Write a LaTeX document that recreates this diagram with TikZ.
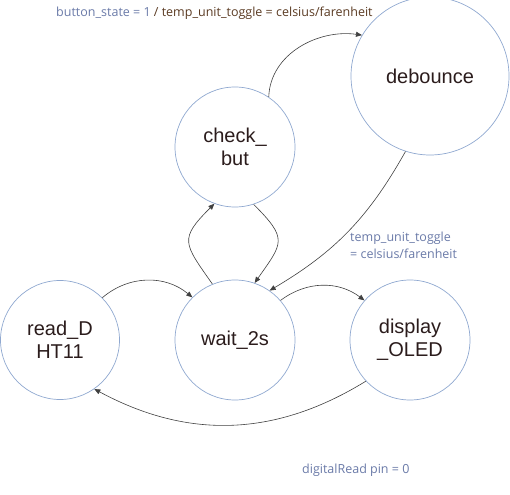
\documentclass[tikz,border=0pt]{standalone}
\usepackage{fontspec}
\setmainfont{Liberation Sans}
\newfontfamily\lblfont{Open Sans}
\usepackage{tikz}
\usetikzlibrary{positioning,arrows.meta}
\usepackage{xcolor}
\definecolor{ringblue}{HTML}{8FA8D0}
\definecolor{lblblue}{HTML}{6A7AA8}
\definecolor{lblbrown}{HTML}{5A3A22}
\definecolor{txtdark}{HTML}{2B1C1C}

\begin{document}
\begin{tikzpicture}[x=1pt,y=1pt,>={Triangle[length=6pt,width=5pt]},
  stnode/.style={circle,draw=ringblue,line width=0.7pt,inner sep=0pt,
    text=txtdark,align=center,font=\fontsize{20}{23}\selectfont},
  trans/.style={->,draw=black!75,line width=0.6pt},
  lbl/.style={font=\lblfont\fontsize{12.5}{17}\selectfont,inner sep=0pt}]
\useasboundingbox (0,0) rectangle (510,-494);
% states
\node[stnode,minimum size=158pt] (deb) at (430,-76) {debounce};
\node[stnode,minimum size=120pt] (chk) at (235,-147) {check\_\\but};
\node[stnode,minimum size=119pt] (rd) at (60,-340) {read\_D\\HT11};
\node[stnode,minimum size=120pt] (wt) at (235,-340) {wait\_2s};
\node[stnode,minimum size=120pt] (disp) at (410,-340) {display\\\_OLED};
% labels
\node[lbl,anchor=base west,text=lblbrown] (lbtop) at (56,-17)
  {\textcolor{lblblue}{button\_state = 1} / temp\_unit\_toggle = celsius/farenheit};
\node[lbl,anchor=base west,text=lblblue,align=left] (lbtog) at (350,-258)
  {temp\_unit\_toggle\\= celsius/farenheit};
\node[lbl,anchor=base west,text=lblblue] (lbpin) at (302,-473) {digitalRead pin = 0};
% transitions
\draw[trans] (chk.56) to[out=88,in=172] (deb.149);
\draw[trans] (deb.252) to[bend left=15] (wt.55);
\draw[trans] (chk.-72) to[out=-45,in=55,looseness=1.6] (wt.71);
\draw[trans] (wt.112) to[out=125,in=-135,looseness=1.6] (chk.250);
\draw[trans] (rd.45) to[bend left=40] (wt.135);
\draw[trans] (wt.41) to[bend left=37] (disp.139);
\draw[trans] (disp.-137) to[bend left=30] (rd.-55);
\end{tikzpicture}
\end{document}
